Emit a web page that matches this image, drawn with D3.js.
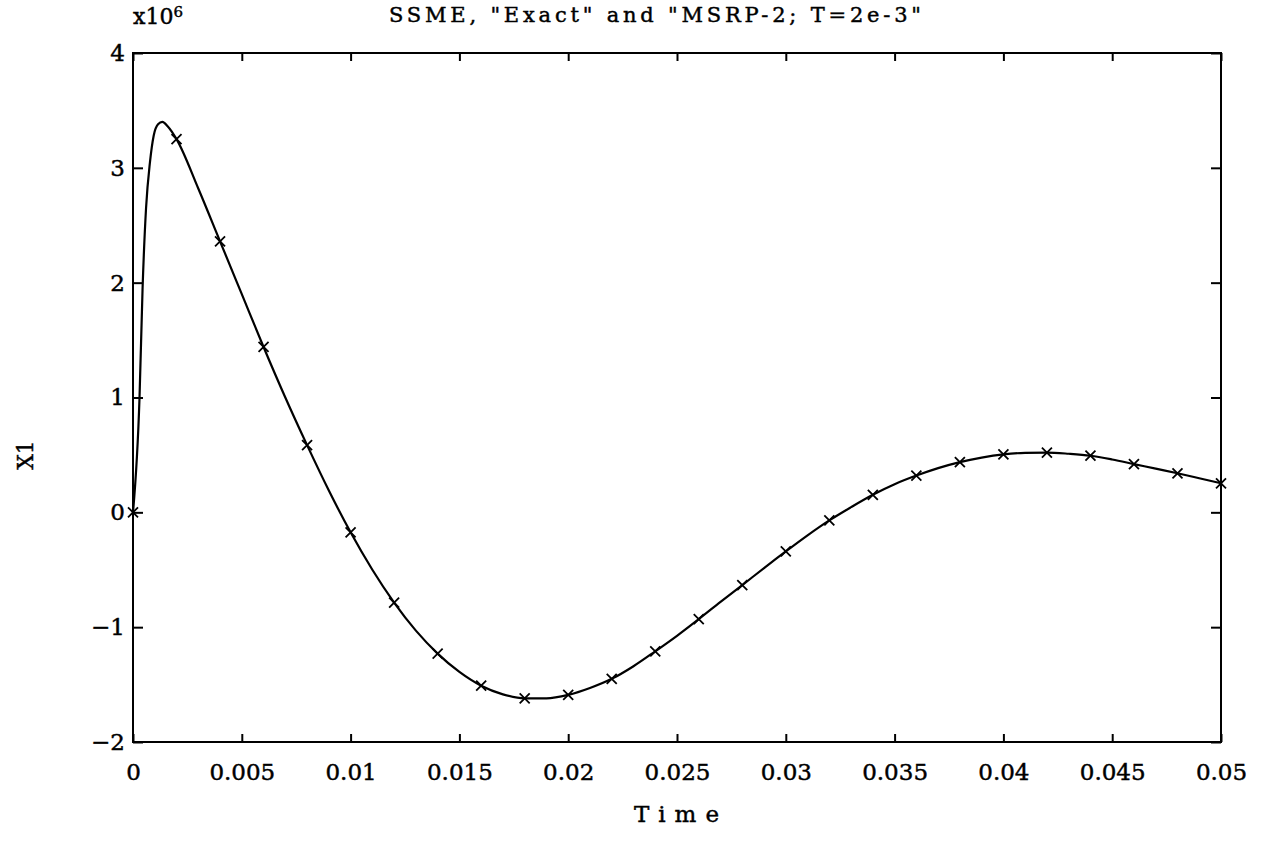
<!DOCTYPE html>
<html>
<head>
<meta charset="utf-8">
<script src="https://cdn.jsdelivr.net/npm/d3@7"></script>
<style>
  html, body { margin: 0; padding: 0; background: #fff; }
  svg { display: block; }
  text { font-family: "DejaVu Serif", "Liberation Serif", serif; fill: #000; stroke: #000; stroke-width: 0.45px; }
</style>
</head>
<body>
<svg id="chart" width="1263" height="847"></svg>
<script>
// ---- data ----
const titleText = 'SSME, "Exact" and "MSRP-2; T=2e-3"';
const xLabel = "Time";
const yLabel = "X1";
const xTicks = [0, 0.005, 0.01, 0.015, 0.02, 0.025, 0.03, 0.035, 0.04, 0.045, 0.05];
const xTickLabels = ["0", "0.005", "0.01", "0.015", "0.02", "0.025", "0.03", "0.035", "0.04", "0.045", "0.05"];
const yTicks = [-2, -1, 0, 1, 2, 3, 4];
const yTickLabels = ["\u22122", "\u22121", "0", "1", "2", "3", "4"];

// "Exact" solution curve (x10^6)
const exactT = [0, 0.0003, 0.00044, 0.0006, 0.00078, 0.00095, 0.00115, 0.00135, 0.0016, 0.002, 0.003, 0.004, 0.005, 0.006, 0.007, 0.008, 0.009,
  0.010, 0.011, 0.012, 0.013, 0.014, 0.015, 0.016, 0.017, 0.018, 0.019, 0.020, 0.021, 0.022, 0.023, 0.024, 0.025,
  0.026, 0.027, 0.028, 0.029, 0.030, 0.031, 0.032, 0.033, 0.034, 0.035, 0.036, 0.037, 0.038, 0.039, 0.040,
  0.041, 0.042, 0.043, 0.044, 0.045, 0.046, 0.047, 0.048, 0.049, 0.050];
const exactV = [0, 1.0, 1.95, 2.65, 3.05, 3.28, 3.38, 3.40, 3.36, 3.25, 2.82, 2.36, 1.90, 1.44, 1.00, 0.585, 0.19,
  -0.174, -0.50, -0.786, -1.03, -1.23, -1.39, -1.51, -1.585, -1.62, -1.62, -1.59, -1.53, -1.45, -1.34, -1.21, -1.075,
  -0.93, -0.78, -0.634, -0.485, -0.34, -0.20, -0.07, 0.045, 0.153, 0.245, 0.32, 0.385, 0.437, 0.477, 0.505,
  0.518, 0.52, 0.51, 0.493, 0.46, 0.42, 0.38, 0.34, 0.297, 0.253];

// "MSRP-2; T=2e-3" samples (x markers)
const msrpT = [0, 0.002, 0.004, 0.006, 0.008, 0.010, 0.012, 0.014, 0.016, 0.018, 0.020, 0.022, 0.024,
  0.026, 0.028, 0.030, 0.032, 0.034, 0.036, 0.038, 0.040, 0.042, 0.044, 0.046, 0.048, 0.050];
const msrpV = [0, 3.25, 2.36, 1.44, 0.585, -0.174, -0.786, -1.23, -1.51, -1.62, -1.59, -1.45, -1.21,
  -0.93, -0.634, -0.34, -0.07, 0.153, 0.32, 0.437, 0.505, 0.52, 0.493, 0.42, 0.34, 0.253];

// ---- layout ----
const svg = d3.select("#chart");
const L = 133, R = 1221, T = 53, B = 742;

const x = d3.scaleLinear().domain([0, 0.05]).range([L, R]);
const y = d3.scaleLinear().domain([-2, 4]).range([B, T]);

// frame
svg.append("rect")
  .attr("x", L).attr("y", T).attr("width", R - L).attr("height", B - T)
  .attr("fill", "none").attr("stroke", "#000").attr("stroke-width", 2);

// axes with inward ticks
const fontSize = 23;
const gB = svg.append("g").attr("transform", `translate(0,${B})`)
  .call(d3.axisBottom(x).tickValues(xTicks).tickSize(-8).tickPadding(22)
    .tickFormat((d, i) => xTickLabels[i]));
const gT = svg.append("g").attr("transform", `translate(0,${T})`)
  .call(d3.axisTop(x).tickValues(xTicks).tickSize(-8).tickFormat(""));
const gL = svg.append("g").attr("transform", `translate(${L},0)`)
  .call(d3.axisLeft(y).tickValues(yTicks).tickSize(-10).tickPadding(8)
    .tickFormat((d, i) => yTickLabels[i]));
const gR = svg.append("g").attr("transform", `translate(${R},0)`)
  .call(d3.axisRight(y).tickValues(yTicks).tickSize(-10).tickFormat(""));

[gB, gT, gL, gR].forEach(g => {
  g.select(".domain").remove();
  g.selectAll(".tick line").attr("stroke", "#000").attr("stroke-width", 2);
  g.selectAll(".tick text")
    .attr("font-family", '"DejaVu Serif", serif')
    .attr("font-size", fontSize).attr("fill", "#000");
});

// exact curve
const exactData = exactT.map((t, i) => [t, exactV[i]]);
const line = d3.line().x(d => x(d[0])).y(d => y(d[1])).curve(d3.curveMonotoneX);
svg.append("path").datum(exactData)
  .attr("d", line)
  .attr("fill", "none").attr("stroke", "#000").attr("stroke-width", 2.2);

// markers
const msrpData = msrpT.map((t, i) => [t, msrpV[i]]);
svg.append("g").selectAll("path").data(msrpData).join("path")
  .attr("transform", d => `translate(${x(d[0])},${y(d[1])})`)
  .attr("d", "M-5,-5L5,5M-5,5L5,-5")
  .attr("stroke", "#000").attr("stroke-width", 1.8).attr("fill", "none");

// title
svg.append("text")
  .attr("x", 389).attr("y", 22)
  .attr("font-size", 21)
  .attr("textLength", 532).attr("lengthAdjust", "spacing")
  .text(titleText);

// multiplier
const mult = svg.append("text").attr("x", 133).attr("y", 24)
  .attr("font-size", 22).attr("stroke-width", 0.8);
mult.append("tspan").text("x10");
mult.append("tspan").attr("dy", -7).attr("font-size", 15).text("6");

// x label
svg.append("text")
  .attr("x", 634).attr("y", 822)
  .attr("font-size", 23)
  .attr("textLength", 85).attr("lengthAdjust", "spacing")
  .text(xLabel);

// y label
svg.append("text")
  .attr("transform", "translate(33,455) rotate(-90)")
  .attr("text-anchor", "middle")
  .attr("font-size", 22)
  .text(yLabel);
</script>
</body>
</html>
